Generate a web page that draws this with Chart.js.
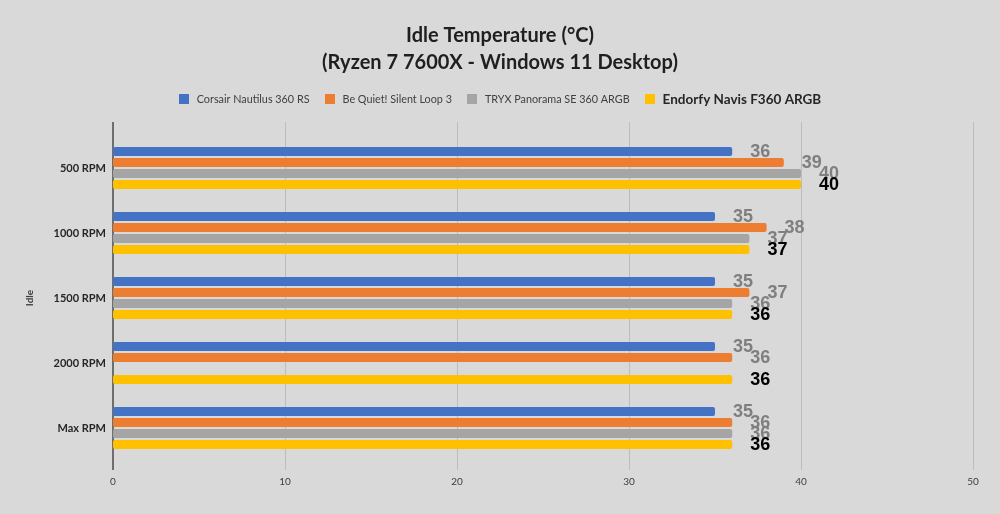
<!DOCTYPE html>
<html><head><meta charset="utf-8">
<script src="https://cdn.jsdelivr.net/npm/chart.js@4.4.1/dist/chart.umd.min.js"></script>
<style>html,body{margin:0;padding:0;background:#d9d9d9;} #wrap{width:1000px;height:514px;position:relative}</style>
</head><body><div id="wrap"><canvas id="c" width="1000" height="514"></canvas></div>
<script>
const categories = ['500 RPM','1000 RPM','1500 RPM','2000 RPM','Max RPM'];
const seriesNames = ['Corsair Nautilus 360 RS','Be Quiet! Silent Loop 3','TRYX Panorama SE 360 ARGB','Endorfy Navis F360 ARGB'];
const corsair = [36,35,35,35,35];
const bequiet = [39,38,37,36,36];
const tryx = [40,37,36,null,36];
const endorfy = [40,37,36,36,36];
const xTicks = [0,10,20,30,40,50];
const titleLines = ['Idle Temperature (°C)','(Ryzen 7 7600X - Windows 11 Desktop)'];
const axisTitle = 'Idle';
const colors = ['#4472C4','#ED7D31','#A5A5A5','#FFC000'];
const seriesValues = [corsair, bequiet, tryx, endorfy];

const gridPlugin = {
  id: 'grid',
  beforeDatasetsDraw(chart) {
    const {ctx, chartArea, scales: {x}} = chart;
    const top = chartArea.top - 13.5, bottom = chartArea.bottom + 9.5;
    ctx.save();
    xTicks.forEach(v => {
      const px = Math.round(x.getPixelForValue(v));
      ctx.beginPath();
      if (v === 0) { ctx.strokeStyle = '#6e6e6e'; ctx.lineWidth = 2; ctx.moveTo(px, top); ctx.lineTo(px, bottom); }
      else { ctx.strokeStyle = '#bcbcbc'; ctx.lineWidth = 1; ctx.moveTo(px + 0.5, top); ctx.lineTo(px + 0.5, bottom); }
      ctx.stroke();
    });
    ctx.restore();
  }
};

const labelPlugin = {
  id: 'valueLabels',
  afterDatasetsDraw(chart) {
    const {ctx} = chart;
    ctx.save();
    chart.data.datasets.forEach((ds, di) => {
      const meta = chart.getDatasetMeta(di);
      meta.data.forEach((el, i) => {
        const v = ds.data[i];
        if (v === null || v === undefined) return;
        ctx.font = 'bold 18px "Liberation Sans", Arial, sans-serif';
        ctx.fillStyle = di === 3 ? '#000000' : '#7f7f7f';
        ctx.textAlign = 'left';
        ctx.textBaseline = 'middle';
        ctx.fillText(String(v), el.x + 18, el.y + 1);
      });
    });
    ctx.restore();
  }
};

const legendPlugin = {
  id: 'customLegend',
  afterDraw(chart) {
    const {ctx} = chart;
    const y = 99, box = 10, gapText = 8, gapItem = 15;
    const fonts = seriesNames.map((n, i) => i === 3 ? 'bold 13.5px Lato, sans-serif' : '10.8px Lato, sans-serif');
    ctx.save();
    const widths = seriesNames.map((n, i) => { ctx.font = fonts[i]; return ctx.measureText(n).width; });
    const total = widths.reduce((a, w) => a + box + gapText + w, 0) + gapItem * (seriesNames.length - 1);
    let x = 500 - total / 2;
    seriesNames.forEach((n, i) => {
      ctx.fillStyle = colors[i];
      ctx.fillRect(Math.round(x), y - box / 2, box, box);
      x += box + gapText;
      ctx.font = fonts[i];
      ctx.fillStyle = i === 3 ? '#262626' : '#404040';
      ctx.textAlign = 'left';
      ctx.textBaseline = 'middle';
      ctx.fillText(n, x, y + 0.5);
      x += widths[i] + gapItem;
    });
    ctx.restore();
  }
};

new Chart(document.getElementById('c'), {
  type: 'bar',
  data: {
    labels: categories,
    datasets: seriesNames.map((name, i) => ({
      label: name,
      data: seriesValues[i],
      backgroundColor: colors[i],
      barPercentage: 0.82,
      categoryPercentage: 0.677,
      borderRadius: 2,
      borderSkipped: false
    }))
  },
  options: {
    indexAxis: 'y',
    responsive: false,
    animation: false,
    devicePixelRatio: 1,
    layout: { padding: { left: 0, right: 0, top: 0, bottom: 0 } },
    plugins: {
      legend: { display: false },
      tooltip: { enabled: false },
      title: {
        display: true,
        text: titleLines,
        color: '#1f1f1f',
        font: { family: 'Lato, sans-serif', size: 20, weight: 'bold', lineHeight: 1.35 },
        padding: { top: 22.5, bottom: 59 }
      }
    },
    scales: {
      x: {
        type: 'linear', min: 0, max: 50,
        grid: { display: false, drawTicks: false },
        border: { display: false },
        ticks: { stepSize: 10, color: '#404040', font: { family: 'Lato, sans-serif', size: 10 }, padding: 15 },
        afterFit(s) { s.height = 53.5; }
      },
      y: {
        type: 'category',
        grid: { display: false, drawTicks: false },
        border: { display: false },
        ticks: { color: '#262626', font: { family: 'Lato, sans-serif', size: 11, weight: 'bold' }, padding: 7 },
        title: { display: true, text: axisTitle, color: '#404040', font: { family: 'Lato, sans-serif', size: 10, weight: 'bold' }, padding: { top: 24, bottom: 0 } },
        afterFit(s) { s.width = 113; }
      },
      yRight: {
        type: 'category',
        position: 'right',
        display: true,
        grid: { display: false, drawTicks: false },
        border: { display: false },
        ticks: { display: false },
        afterFit(s) { s.width = 27; }
      }
    }
  },
  plugins: [gridPlugin, labelPlugin, legendPlugin]
});
</script></body></html>
